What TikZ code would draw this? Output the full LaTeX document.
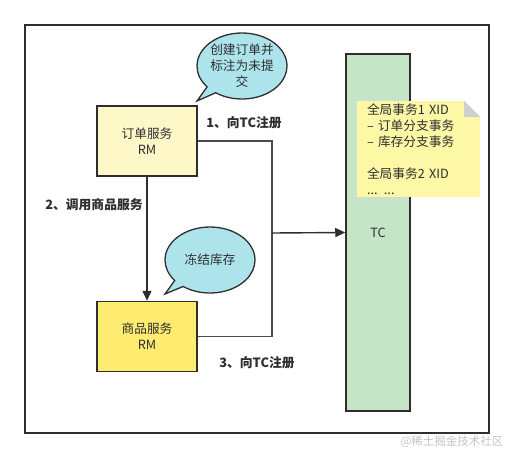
\documentclass[tikz,border=0pt]{standalone}
\usepackage{fontspec}
\setmainfont{Noto Sans CJK SC}
\usepackage{xcolor}
\usepackage{tikz}
\usetikzlibrary{positioning}
\usetikzlibrary{arrows.meta}
\usetikzlibrary{shapes.callouts}
\definecolor{inkdark}{HTML}{2E2E2E}
\definecolor{wiregray}{HTML}{4A4A4A}
\definecolor{orderfill}{HTML}{FEF8C8}
\definecolor{goodsfill}{HTML}{FDEC70}
\definecolor{tcfill}{HTML}{C6E5C8}
\definecolor{notefill}{HTML}{FDF8A6}
\definecolor{foldgray}{HTML}{CFCFCF}
\definecolor{bubblefill}{HTML}{ADE4EC}
\definecolor{markgray}{HTML}{C4C4C4}

\begin{document}
\begin{tikzpicture} [x = 1pt, y = -1pt, font = \fontsize{12.7}{16}\selectfont, text = inkdark,
    rm/.style = {draw = inkdark, line width = 1.5pt, minimum width = 100pt, minimum height = 70pt, align = center},
    bubble/.style = {ellipse callout, draw = inkdark, line width = 1.3pt, fill = bubblefill, align = center, inner sep = 0pt, minimum width = 90pt, minimum height = 66pt},
    step label/.style = {font = \fontsize{12.8}{16}\selectfont\bfseries},
    wire/.style = {draw = wiregray, line width = 1.2pt},
    flow/.style = {->, > = {Triangle[length = 10pt, width = 9pt]}, draw = inkdark, line width = 1.4pt}]
    \useasboundingbox (0,0) rectangle (514,458);
    \draw[inkdark, line width = 1.6pt] (25,25) rectangle (489,433);
    % services and coordinator
    \node[rm, fill = orderfill] (order) at (147,141) {订单服务\\RM};
    \node[rm, fill = goodsfill, below = 124pt of order] (goods) {商品服务\\RM};
    \node[draw = inkdark, line width = 1.5pt, fill = tcfill, minimum width = 64pt, minimum height = 357pt] (TC) at (378,232.5) {TC};
    % note on the coordinator
    \node[fill = notefill, minimum width = 122pt, minimum height = 96pt, text width = 103pt, inner xsep = 10pt, inner ysep = 0pt, align = left] (note) at (418.5,149)
        {全局事务1 XID\\– 订单分支事务\\– 库存分支事务\\[16pt]全局事务2 XID\\... ...};
    \fill[white] ([xshift = -16pt]note.north east) -- (note.north east) -- ([yshift = -16pt]note.north east) -- cycle;
    \fill[foldgray] ([xshift = -16pt]note.north east) -- ([yshift = -16pt]note.north east) -- ([xshift = -16pt, yshift = -16pt]note.north east) -- cycle;
    % bubbles
    \node[bubble, callout absolute pointer = {(197,101)}] (create) at (242,66) {创建订单并\\标注为未提\\交};
    \node[bubble, callout absolute pointer = {(165,294)}] (freeze) at (210,260) {冻结库存};
    % connectors
    \coordinate (join) at (272,233);
    \draw[wire] (order.east) -| (join);
    \draw[wire] (goods.east) -| (join);
    \draw[flow] (join) -- (TC.west);
    \draw[flow] (order) -- (goods);
    % labels
    \node[step label] (reg1) at (244,123) {1、向TC注册};
    \node[step label] (call) at (94,205) {2、调用商品服务};
    \node[step label] (reg3) at (257,363) {3、向TC注册};
    \node[text = markgray, font = \fontsize{11.5}{13}\selectfont] (mark) at (452,442) {@稀土掘金技术社区};
\end{tikzpicture}
\end{document}
